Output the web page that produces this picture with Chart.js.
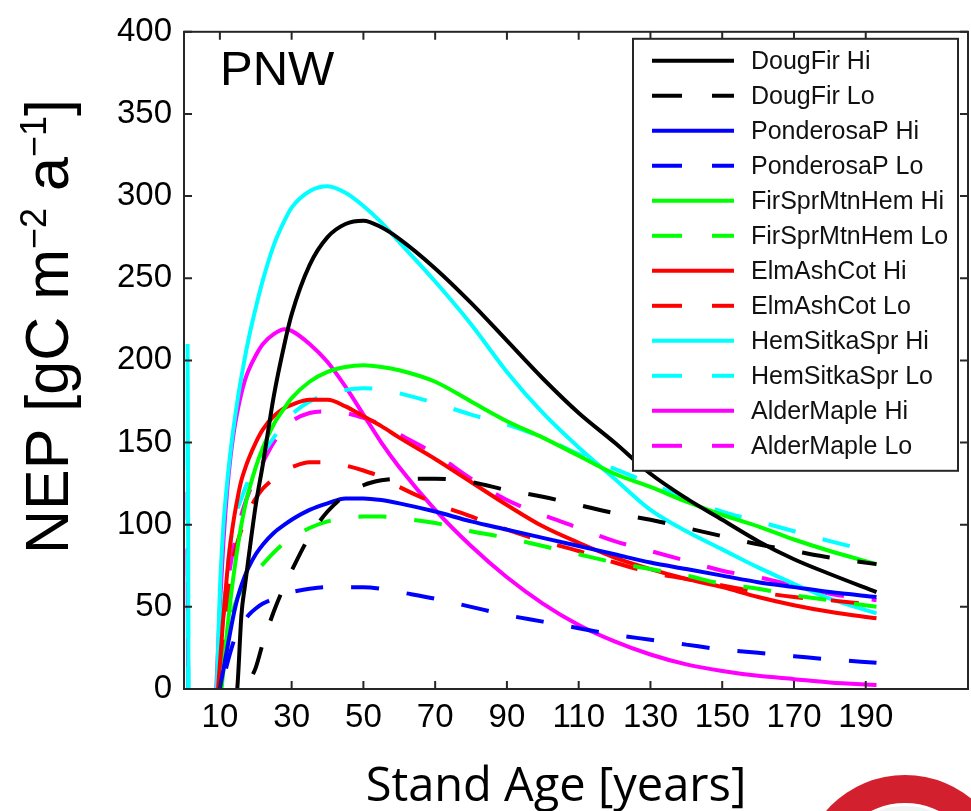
<!DOCTYPE html>
<html><head><meta charset="utf-8">
<title>PNW - NEP vs stand age</title>
<script src="https://cdn.jsdelivr.net/npm/chart.js@4.4.7/dist/chart.umd.min.js"></script>
<style>
html,body{margin:0;padding:0;background:#fff}
.wrap{position:relative;width:971px;height:811px;overflow:hidden}
canvas{position:absolute;left:0;top:0}
.seal{position:absolute;left:800px;top:775px;width:210px;height:210px;border-radius:50%;background:#d3202f}
.seal:after{content:"";position:absolute;left:28px;top:28px;right:28px;bottom:28px;border-radius:50%;background:#f2f2f2;border:3px solid #fff}
</style></head><body>
<div class="wrap"><canvas id="chart" width="971" height="811"></canvas><div class="seal"></div></div>
<script>
// NEP over stand age, PNW forest type groups (Hi / Lo site productivity)
// values, negative parts fall below the axis and get clipped

var AGES = [1, 2, 8, 9, 10, 11, 12, 13, 14, 15, 16, 17, 18, 20, 22, 25, 28, 30, 35, 40, 45, 50, 55, 60, 70, 80, 90, 100, 110, 120, 130, 140, 150, 160, 170, 180, 193];

var DOUGFIR_HI  = [-600, -600, -250, -200, -160, -120, -85, -55, -22, 5, 45, 63, 80, 112, 137, 178, 210, 228, 258, 275, 283, 285, 281, 274, 256, 235, 212, 189, 168, 150, 131, 116, 103, 90, 79, 70, 59];
var DOUGFIR_LO  = [-600, -600, -200, -170, -140, -115, -95, -75, -55, -37, -20, -6, 3, 13, 28, 47, 63, 72, 93, 108, 118, 124, 127, 128, 128, 126, 121, 117, 112, 107, 103, 98, 93, 88, 84, 80, 76];
var PONDEROSA_HI = [-600, -500, -40, -18, 0, 12, 24, 36, 47, 56, 63, 69, 74, 82, 88, 95, 100, 103, 109, 113, 116, 116, 115, 113, 108, 102, 97, 92, 87, 82, 77, 73, 69, 65, 62, 59, 56];
var PONDEROSA_LO = [-600, -500, -30, -15, -3, 6, 15, 23, 30, 35, 39, 42, 45, 49, 52, 55, 58, 59, 61, 62, 62, 62, 61, 59, 55, 50, 45, 41, 37, 33, 30, 27, 24, 22, 20, 18, 16];
var FIRSPR_HI   = [-600, -500, -60, -35, -10, 12, 35, 55, 72, 87, 100, 111, 120, 135, 147, 161, 171, 177, 187, 193, 196, 197, 196, 194, 187, 175, 163, 153, 142, 131, 123, 114, 106, 99, 91, 84, 76];
var FIRSPR_LO   = [-600, -500, -40, -22, -5, 10, 27, 42, 50, 56, 60, 63, 66, 71, 76, 83, 89, 92, 98, 102, 104, 105, 105, 104, 101, 96, 92, 87, 82, 77, 73, 69, 64, 61, 57, 54, 50];
var ELMASH_HI   = [-600, -500, -50, -15, 15, 45, 70, 90, 105, 117, 127, 134, 140, 150, 158, 166, 171, 173, 176, 176, 172, 166, 160, 153, 140, 126, 112, 99, 89, 80, 73, 67, 62, 56, 51, 47, 43];
var ELMASH_LO   = [-600, -500, -40, -15, 5, 30, 52, 70, 82, 90, 97, 103, 108, 116, 122, 128, 133, 135, 138, 138, 136, 133, 129, 123, 113, 105, 97, 90, 84, 77, 71, 67, 63, 59, 56, 54, 51];
var HEMSITKA_HI = [210, -500, -60, -10, 60, 100, 125, 145, 162, 177, 190, 202, 213, 232, 249, 270, 285, 293, 303, 306, 302, 294, 284, 272, 248, 222, 193, 168, 147, 128, 109, 96, 85, 74, 64, 55, 46];
var HEMSITKA_LO = [150, -500, -40, -12, 20, 50, 72, 90, 101, 110, 116, 122, 127, 135, 143, 153, 162, 167, 175, 179, 182, 183, 182.5, 180, 174, 167, 161, 153, 143, 134, 125, 116, 108, 102, 96, 90, 83];
var ALDER_HI    = [85, -500, -40, 0, 50, 90, 120, 142, 158, 170, 180, 188, 194, 203, 210, 216, 219, 218, 210, 199, 184, 167, 150, 135, 109, 87, 68, 52, 39, 29, 21, 15, 11, 8, 6, 4, 2.5];
var ALDER_LO    = [120, -500, -40, -5, 25, 45, 62, 76, 88, 98, 106, 113, 119, 129, 138, 150, 159, 163, 168, 169, 168, 165, 161, 155, 143, 128, 115, 106, 98, 90, 84, 78, 72, 68, 63, 58, 54];

var X_TICKS = [10, 30, 50, 70, 90, 110, 130, 150, 170, 190];
var Y_TICKS = [0, 50, 100, 150, 200, 250, 300, 350, 400];

var SERIES = [
  {label: 'DougFir Hi', values: DOUGFIR_HI, color: '#000000', dashed: false},
  {label: 'DougFir Lo', values: DOUGFIR_LO, color: '#000000', dashed: true},
  {label: 'PonderosaP Hi', values: PONDEROSA_HI, color: '#0000FF', dashed: false},
  {label: 'PonderosaP Lo', values: PONDEROSA_LO, color: '#0000FF', dashed: true},
  {label: 'FirSprMtnHem Hi', values: FIRSPR_HI, color: '#00FF00', dashed: false},
  {label: 'FirSprMtnHem Lo', values: FIRSPR_LO, color: '#00FF00', dashed: true},
  {label: 'ElmAshCot Hi', values: ELMASH_HI, color: '#FF0000', dashed: false},
  {label: 'ElmAshCot Lo', values: ELMASH_LO, color: '#FF0000', dashed: true},
  {label: 'HemSitkaSpr Hi', values: HEMSITKA_HI, color: '#00FFFF', dashed: false},
  {label: 'HemSitkaSpr Lo', values: HEMSITKA_LO, color: '#00FFFF', dashed: true},
  {label: 'AlderMaple Hi', values: ALDER_HI, color: '#FF00FF', dashed: false},
  {label: 'AlderMaple Lo', values: ALDER_LO, color: '#FF00FF', dashed: true}
];

var FONT = '"Liberation Sans", Arial, Helvetica, sans-serif';
var AXIS_COLOR = '#262626';

var datasets = SERIES.map(function(s) {
  return {
    label: s.label,
    data: AGES.map(function(a, i) { return {x: a, y: s.values[i]}; }),
    borderColor: s.color,
    backgroundColor: s.color,
    borderWidth: 4,
    borderDash: s.dashed ? [28, 28] : [],
    pointRadius: 0,
    fill: false,
    cubicInterpolationMode: 'monotone'
  };
});

// axis box, inward ticks, panel tag, legend and axis titles
var framePlugin = {
  id: 'frame',
  afterDatasetsDraw: function(chart) {
    var ctx = chart.ctx, a = chart.chartArea;
    var xs = chart.scales.x, ys = chart.scales.y;
    ctx.save();
    ctx.setLineDash([]);
    ctx.strokeStyle = AXIS_COLOR;
    ctx.lineWidth = 2;
    ctx.strokeRect(a.left, a.top, a.right - a.left, a.bottom - a.top);
    ctx.beginPath();
    X_TICKS.forEach(function(v) {
      var px = xs.getPixelForValue(v);
      ctx.moveTo(px, a.bottom); ctx.lineTo(px, a.bottom - 8);
      ctx.moveTo(px, a.top); ctx.lineTo(px, a.top + 8);
    });
    Y_TICKS.forEach(function(v) {
      var py = ys.getPixelForValue(v);
      ctx.moveTo(a.left, py); ctx.lineTo(a.left + 8, py);
      ctx.moveTo(a.right, py); ctx.lineTo(a.right - 8, py);
    });
    ctx.stroke();

    ctx.fillStyle = '#000';
    ctx.font = '49px ' + FONT;
    ctx.textAlign = 'left';
    ctx.textBaseline = 'alphabetic';
    ctx.fillText('PNW', a.left + 36, a.top + 53);

    // legend box
    var bx = a.right - 335, by = a.top + 7, bw = 325, bh = 432;
    ctx.fillStyle = '#fff';
    ctx.fillRect(bx, by, bw, bh);
    ctx.strokeStyle = AXIS_COLOR;
    ctx.lineWidth = 2;
    ctx.strokeRect(bx, by, bw, bh);
    ctx.font = '25px ' + FONT;
    ctx.textBaseline = 'middle';
    SERIES.forEach(function(s, i) {
      var cy = by + 22 + i * 35;
      ctx.strokeStyle = s.color;
      ctx.lineWidth = 4;
      ctx.setLineDash(s.dashed ? [30, 30] : []);
      ctx.beginPath();
      ctx.moveTo(bx + 19, cy); ctx.lineTo(bx + 101, cy);
      ctx.stroke();
      ctx.setLineDash([]);
      ctx.fillStyle = '#111';
      ctx.fillText(s.label, bx + 118, cy + 1);
    });
    ctx.restore();
  },
  afterDraw: function(chart) {
    var ctx = chart.ctx;
    ctx.save();
    // y title with superscripts, rotated
    var parts = [['NEP [gC m', 61, 0], ['\u22122', 36, -22], [' a', 61, 0], ['\u22121', 36, -22], [']', 61, 0]];
    ctx.translate(68, 554);
    ctx.rotate(-Math.PI / 2);
    ctx.fillStyle = '#000';
    ctx.textAlign = 'left';
    ctx.textBaseline = 'alphabetic';
    var x = 0;
    parts.forEach(function(p) {
      ctx.font = p[1] + 'px ' + FONT;
      ctx.fillText(p[0], x, p[2]);
      x += ctx.measureText(p[0]).width;
    });
    ctx.restore();

    ctx.save();
    ctx.fillStyle = '#000';
    ctx.font = '47px "Open Sans", "Noto Sans", sans-serif';
    ctx.textAlign = 'center';
    ctx.textBaseline = 'alphabetic';
    ctx.fillText('Stand Age [years]', 556, 801);
    ctx.restore();
  }
};

Chart.defaults.font.family = FONT;

new Chart(document.getElementById('chart'), {
  type: 'line',
  data: {datasets: datasets},
  plugins: [framePlugin],
  options: {
    responsive: false,
    animation: false,
    devicePixelRatio: 1,
    layout: {padding: {top: 28, right: 3, left: 0, bottom: 0}},
    plugins: {legend: {display: false}, tooltip: {enabled: false}},
    scales: {
      x: {
        type: 'linear', min: 0, max: 218.5,
        grid: {display: false, drawTicks: false},
        border: {display: false},
        afterBuildTicks: function(sc) { sc.ticks = X_TICKS.map(function(v) { return {value: v}; }); },
        afterFit: function(sc) { sc.height = 122; },
        ticks: {color: '#000', font: {size: 33}, padding: 9, maxRotation: 0, autoSkip: false}
      },
      y: {
        type: 'linear', min: 0, max: 400,
        grid: {display: false, drawTicks: false},
        border: {display: false},
        afterBuildTicks: function(sc) { sc.ticks = Y_TICKS.map(function(v) { return {value: v}; }); },
        afterFit: function(sc) { sc.width = 184; },
        ticks: {color: '#000', font: {size: 33}, padding: 12}
      }
    }
  }
});
</script></body></html>
